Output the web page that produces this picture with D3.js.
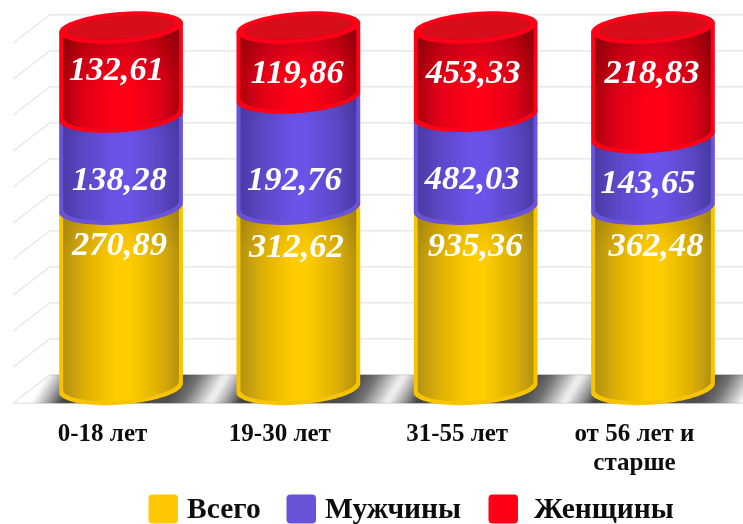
<!DOCTYPE html>
<html><head><meta charset="utf-8">
<script src="https://cdn.jsdelivr.net/npm/d3@7/dist/d3.min.js"></script>
<style>html,body{margin:0;padding:0;background:#fff}svg{display:block}</style></head>
<body><div id="c"></div>
<script>
const categories = [["0-18 лет"],["19-30 лет"],["31-55 лет"],["от 56 лет и","старше"]];
const seriesNames = ["Всего","Мужчины","Женщины"];
const total = [270.89,312.62,935.36,362.48];
const men = [138.28,192.76,482.03,143.65];
const women = [132.61,119.86,453.33,218.83];
const valueLabels = [
  ["270,89","312,62","935,36","362,48"],
  ["138,28","192,76","482,03","143,65"],
  ["132,61","119,86","453,33","218,83"]];
const gridTicks = [0,.1,.2,.3,.4,.5,.6,.7,.8,.9,1];

const W=743,H=524;
const svg=d3.select("#c").append("svg").attr("width",W).attr("height",H);
const defs=svg.append("defs");
const colors=[
 {rim:"#f8c400",edge:"#b3920f",soft:"#dcae06",mid:"#ffcc00"},
 {rim:"#6a52d8",edge:"#4a3ba6",soft:"#5a48c4",mid:"#6b52e8"},
 {rim:"#ff0018",edge:"#ae0010",soft:"#e00014",mid:"#ff0018"}];
colors.forEach((c,i)=>{
  const g=defs.append("linearGradient").attr("id","g"+i);
  [[0,c.edge],[.18,c.soft],[.45,c.mid],[.58,c.mid],[.84,c.soft],[1,c.edge]].forEach(s=>g.append("stop").attr("offset",s[0]).attr("stop-color",s[1]));
  const v=defs.append("linearGradient").attr("id","v"+i).attr("x1",0).attr("x2",0).attr("y1",0).attr("y2",1);
  const strength=[.14,.08,.25][i], reach=[.25,.25,.6][i];
  [[0,strength],[reach,0],[1,0]].forEach(s=>v.append("stop").attr("offset",s[0]).attr("stop-color","#000").attr("stop-opacity",s[1]));
});
const soft=defs.append("filter").attr("id","soft").attr("x","-10%").attr("y","-10%").attr("width","120%").attr("height","120%");
soft.append("feGaussianBlur").attr("stdDeviation",0.45);
const blur2=defs.append("filter").attr("id","blur2");
blur2.append("feGaussianBlur").attr("stdDeviation",1.5);

const x=d3.scaleBand().domain(d3.range(categories.length)).range([31.5,742.5]).paddingInner(0.3).paddingOuter(0.155);
const y=d3.scaleLinear().domain([0,1]).range([388,27.5]);
const gridY=d3.scaleLinear().domain([0,1]).range([374.7,14.7]);
const depthX=37,depthY=28.5,frontX=13,floorBack=gridY(0),floorFront=floorBack+depthY;

// wall grid + floor outline
const grid=svg.append("g").attr("stroke","#e8e8e8").attr("stroke-width",1.4).attr("fill","none");
gridTicks.forEach(t=>{
  const yy=gridY(t);
  grid.append("path").attr("d",`M${frontX},${yy+depthY}L${frontX+depthX},${yy}L${W},${yy}`);
});
grid.append("path").attr("d",`M${frontX},${floorFront}L${W},${floorFront}`);

// floor shadows
const clip=defs.append("clipPath").attr("id","floor");
clip.append("path").attr("d",`M${frontX},${floorFront}L${frontX+depthX},${floorBack}L${W},${floorBack}L${W},${floorFront}Z`);
const sh=svg.append("g").attr("clip-path","url(#floor)").append("g").attr("filter","url(#blur2)");
const slope=0.6;
function shadowGrad(id,s0,s1,stops){
  const t=(s1-s0)/(1+slope*slope);
  const g=defs.append("linearGradient").attr("id",id).attr("gradientUnits","userSpaceOnUse")
    .attr("x1",s0).attr("y1",floorFront).attr("x2",s0+t).attr("y2",floorFront+slope*t);
  stops.forEach(s=>g.append("stop").attr("offset",s[0]).attr("stop-color","#444").attr("stop-opacity",s[1]));
}
categories.forEach((c,i)=>{
  const a=x(i),b=a+x.bandwidth(),mid=(a+b)/2;
  shadowGrad("sl"+i,a-28,a+2,[[0,0],[.5,.45],[1,1]]);
  shadowGrad("sr"+i,b-16,b+28,[[0,.95],[.35,.75],[1,0]]);
  sh.append("rect").attr("x",a-55).attr("y",floorBack-4).attr("width",mid-a+55).attr("height",depthY+8).attr("fill",`url(#sl${i})`);
  sh.append("rect").attr("x",mid).attr("y",floorBack-4).attr("width",b+60-mid).attr("height",depthY+8).attr("fill",`url(#sr${i})`);
});

const tilt=-4.5*Math.PI/180, ryOut=16.5;
function pt(cx,cy,rx,ry,t){
  const ex=rx*Math.cos(t),ey=ry*Math.sin(t);
  return [cx+ex*Math.cos(tilt)-ey*Math.sin(tilt), cy+ex*Math.sin(tilt)+ey*Math.cos(tilt)];
}
const lineGen=d3.line();
function frontArc(cx,cy,rx,ry){
  return d3.range(0,1.0001,1/40).map(k=>pt(cx,cy,rx,ry,k*Math.PI));
}
function wallPath(cx,yb,yt,rx,ry){
  const arc=frontArc(cx,yb,rx,ry);
  const tl=pt(cx,yt,rx,ry,Math.PI), tr=pt(cx,yt,rx,ry,0);
  return lineGen([...arc,tl,tr])+"Z";
}
function ellipse(cx,cy,rx,ry){
  return lineGen(d3.range(0,2.0001,1/40).map(m=>pt(cx,cy,rx,ry,m*Math.PI)))+"Z";
}

const series=[total,men,women];
const bars=svg.append("g").attr("filter","url(#soft)");
categories.forEach((c,i)=>{
  const sum=total[i]+men[i]+women[i];
  const cx=x(i)+x.bandwidth()/2, rx=x.bandwidth()/2;
  let cum=0;
  series.forEach((s,k)=>{
    const y0=y(cum/sum), y1=y((cum+s[i])/sum);
    cum+=s[i];
    const col=colors[k];
    bars.append("path").attr("d",wallPath(cx,y0,y1,rx,ryOut)).attr("fill",col.rim);
    const inner=wallPath(cx,y0-2.5,y1,rx-4,ryOut-1.5);
    bars.append("path").attr("d",inner).attr("fill",`url(#g${k})`);
    bars.append("path").attr("d",inner).attr("fill",`url(#v${k})`);
    if(k===2){
      bars.append("path").attr("d",ellipse(cx,y1,rx,15.5)).attr("fill","#ff0018");
      bars.append("path").attr("d",ellipse(cx,y1,rx-8,11.5)).attr("fill","#d8081e");
    }
  });
});

// value labels
const labelLevel=[.37,.55,.85];
const labelNudge=[[0.5,2.5,1.5,1.5],[0,0,-1,3],[-1.5,1.5,1.5,1.5]];
const labelDX=[[-1.5,-2,-.5,3],[-1.5,-4,-3.5,-5],[-4.5,-1,-2.5,-1]];
const lab=svg.append("g").attr("font-family","'Liberation Serif',serif").attr("font-weight","bold").attr("font-style","italic").attr("font-size",34.5).attr("fill","#fff").attr("text-anchor","middle").attr("filter","url(#soft)");
valueLabels.forEach((row,k)=>row.forEach((t,i)=>{
  lab.append("text").attr("x",x(i)+x.bandwidth()/2+labelDX[k][i]).attr("y",y(labelLevel[k])+labelNudge[k][i]).text(t);
}));

// category labels
const cat=svg.append("g").attr("font-family","'Liberation Serif',serif").attr("font-weight","bold").attr("font-size",25).attr("fill","#111").attr("text-anchor","middle").attr("filter","url(#soft)");
categories.forEach((lines,i)=>{
  lines.forEach((l,j)=>cat.append("text").attr("x",x(i)+x.bandwidth()/2-18.5).attr("y",441+j*29).text(l));
});

// legend
const legendX=[148.5,286.5,488.5], legendText=[187,325,534], legendFill=["#ffc800","#6a52d8","#ff0018"];
const leg=svg.append("g");
seriesNames.forEach((n,i)=>{
  leg.append("rect").attr("x",legendX[i]).attr("y",494.5).attr("width",29.5).attr("height",29).attr("rx",4).attr("fill",legendFill[i]);
  leg.append("text").attr("x",legendText[i]).attr("y",518).attr("font-family","'Liberation Serif',serif").attr("font-weight","bold").attr("font-size",29.5).attr("fill","#111").attr("filter","url(#soft)").text(n);
});
</script></body></html>
